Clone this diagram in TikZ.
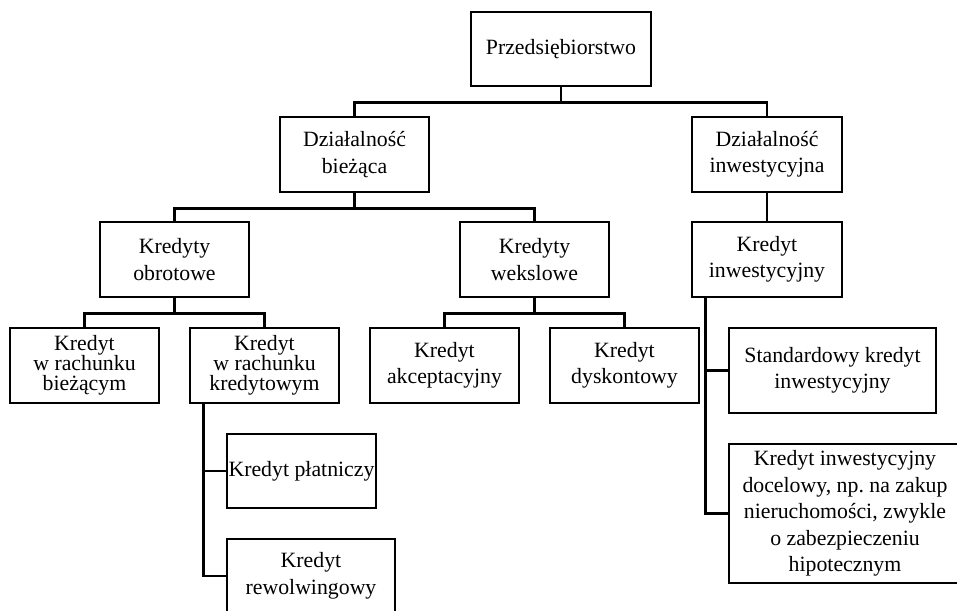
\documentclass[tikz,border=0pt]{standalone}
\usepackage{fontspec}
\setmainfont{Liberation Serif}
\frenchspacing

\begin{document}
\begin{tikzpicture}[x=1pt, y=-1pt,
    box/.style={draw, line width=2.6pt, align=center, inner sep=0pt,
      minimum width=149pt, minimum height=75pt,
      font=\fontsize{21.8}{26.5}\selectfont},
    tight/.style={font=\fontsize{21.8}{20}\selectfont},
    link/.style={line width=2.6pt}]
    \useasboundingbox (0, 0) rectangle (957, 610);

    \node[box, minimum width=180pt, minimum height=74pt] (firma) at (561, 49) {Przedsiębiorstwo};

    \node[box] (biez) at (354.5, 154.5) {Działalność\\bieżąca};
    \node[box, minimum width=150pt] (inw) at (767, 154.5) {Działalność\\inwestycyjna};

    \node[box] (obr) at (174.5, 259.5) {Kredyty\\obrotowe};
    \node[box] (weks) at (534.5, 259.5) {Kredyty\\wekslowe};
    \node[box, minimum width=150pt] (kinw) at (767, 259.5) {Kredyt\\inwestycyjny};

    \node[box, tight] (rbiez) at (84.5, 365.5) {Kredyt\\w rachunku\\bieżącym};
    \node[box, tight] (rkred) at (264.5, 365.5) {Kredyt\\w rachunku\\kredytowym};
    \node[box] (akc) at (444.5, 365.5) {Kredyt\\akceptacyjny};
    \node[box] (dysk) at (624.5, 365.5) {Kredyt\\dyskontowy};

    \node[box, minimum height=74pt] (plat) at (301.5, 471) {Kredyt płatniczy};
    \node[box, minimum width=168pt, minimum height=74pt] (rewo) at (311, 576) {Kredyt\\rewolwingowy};

    \node[box, minimum width=207pt, minimum height=85pt] (stand) at (832.5, 370.5) {Standardowy kredyt\\inwestycyjny};
    \node[box, minimum width=232pt, minimum height=139pt] (docel) at (845, 513.5) {Kredyt inwestycyjny\\docelowy, np. na zakup\\nieruchomości, zwykle\\o zabezpieczeniu\\hipotecznym};

    % szyny laczace
    \foreach \a/\b in {firma/biez, firma/inw, biez/obr, biez/weks, obr/rbiez, obr/rkred, weks/akc, weks/dysk} {
      \draw[link] (\a.south) -- ++(0, 15) -| (\b.north);
    }
    \draw[link] (inw.south) -- (kinw.north);

    \foreach \b in {plat, rewo} {
      \draw[link] ([xshift=15pt]rkred.south west) |- (\b.west);
    }
    \foreach \b in {stand, docel} {
      \draw[link] ([xshift=15pt]kinw.south west) |- (\b.west);
    }
  \end{tikzpicture}
\end{document}
